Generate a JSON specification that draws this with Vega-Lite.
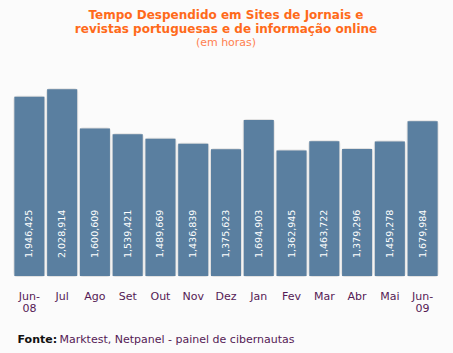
{
  "$schema": "https://vega.github.io/schema/vega-lite/v6.json",
  "width": 426,
  "height": 221,
  "autosize": "none",
  "padding": {"left": 13, "top": 55, "right": 14, "bottom": 77},
  "background": "#fbfbfb",
  "title": {
    "text": ["Tempo Despendido em Sites de Jornais e", "revistas portuguesas e de informação online"],
    "subtitle": "(em horas)",
    "font": "DejaVu Sans",
    "fontSize": 12,
    "fontWeight": "bold",
    "color": "#ff6a1a",
    "lineHeight": 14,
    "subtitleFont": "DejaVu Sans",
    "subtitleFontSize": 11,
    "subtitleColor": "#ff8050",
    "subtitlePadding": 1,
    "anchor": "middle",
    "frame": "group",
    "offset": 6
  },
  "data": {
    "values": [
      {"mes": "Jun-|08", "horas": 1946425},
      {"mes": "Jul", "horas": 2028914},
      {"mes": "Ago", "horas": 1600609},
      {"mes": "Set", "horas": 1539421},
      {"mes": "Out", "horas": 1489669},
      {"mes": "Nov", "horas": 1436839},
      {"mes": "Dez", "horas": 1375623},
      {"mes": "Jan", "horas": 1694903},
      {"mes": "Fev", "horas": 1362945},
      {"mes": "Mar", "horas": 1463722},
      {"mes": "Abr", "horas": 1379296},
      {"mes": "Mai", "horas": 1459278},
      {"mes": "Jun-|09", "horas": 1679984}
    ]
  },
  "encoding": {
    "x": {
      "field": "mes",
      "type": "nominal",
      "sort": null,
      "scale": {"paddingInner": 0.084, "paddingOuter": 0.042},
      "axis": {
        "labelAngle": 0,
        "labelExpr": "split(datum.label, '|')",
        "labelFont": "DejaVu Sans",
        "labelFontSize": 11,
        "labelColor": "#551a55",
        "labelPadding": 14,
        "labelLineHeight": 12,
        "domain": false,
        "ticks": false,
        "title": "Fonte:",
        "titleFont": "DejaVu Sans",
        "titleFontSize": 11,
        "titleFontWeight": "bold",
        "titleColor": "#111111",
        "titleAnchor": "start",
        "titleAlign": "left",
        "titleBaseline": "alphabetic",
        "titleX": 4,
        "titleY": 66
      }
    },
    "y": {
      "field": "horas",
      "type": "quantitative",
      "scale": {"domain": [0, 2400000]},
      "axis": {
        "labels": false,
        "ticks": false,
        "domain": false,
        "grid": false,
        "title": "Marktest, Netpanel - painel de cibernautas",
        "titleAngle": 0,
        "titleFont": "DejaVu Sans",
        "titleFontSize": 11,
        "titleFontWeight": "normal",
        "titleColor": "#551a55",
        "titleAlign": "left",
        "titleBaseline": "alphabetic",
        "titleX": 46,
        "titleY": 287
      }
    }
  },
  "layer": [
    {
      "mark": {"type": "bar", "color": "#8c8c8c", "yOffset": -4, "cornerRadius": 3, "opacity": 0.8, "stroke": "#d0d0d0", "strokeWidth": 2, "strokeOpacity": 0.6}
    },
    {
      "mark": {"type": "bar", "color": "#5a7fa0"}
    },
    {
      "mark": {"type": "text", "angle": 270, "align": "left", "baseline": "middle", "color": "#ffffff", "font": "DejaVu Sans", "fontSize": 9.5, "yOffset": -18},
      "encoding": {
        "y": {"datum": 0},
        "text": {"field": "horas", "type": "quantitative", "format": ",d"}
      }
    }
  ],
  "config": {"view": {"stroke": null}}
}
